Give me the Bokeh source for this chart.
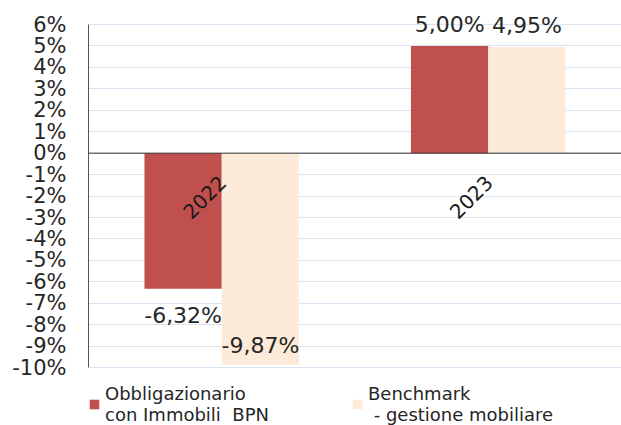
import numpy as np
from bokeh.plotting import figure
from bokeh.models import (ColumnDataSource, FactorRange, Range1d, Span, Legend,
                          LegendItem, FixedTicker, CustomJSTickFormatter)
from bokeh.transform import dodge
from bokeh.core.properties import value
from bokeh.embed import file_html
from bokeh.resources import INLINE

years = ["2022", "2023"]
fund = [-6.32, 5.00]
bench = [-9.87, 4.95]
fund_labels = ["-6,32%", "5,00%"]
bench_labels = ["-9,87%", "4,95%"]
y_ticks = list(range(-10, 7))
series_names = ["Obbligazionario\ncon Immobili  BPN", "Benchmark\n - gestione mobiliare"]

RED = "#c0504d"
BEIGE = "#fdead8"
FONT = "DejaVu Sans"
TXT = "#262626"


def label_y(vals):
    v = np.array(vals, dtype=float)
    return np.where(v >= 0, v + 1.0, np.maximum(v - 1.24, -8.95))


src = ColumnDataSource(dict(
    years=years, fund=fund, bench=bench,
    fund_lab=fund_labels, bench_lab=bench_labels,
    fund_ly=label_y(fund), bench_ly=label_y(bench),
    zero=[0, 0],
))

p = figure(width=621, height=425, x_range=FactorRange(*years, range_padding=0),
           y_range=Range1d(-12.70, 6.7), output_backend="svg", toolbar_location=None,
           min_border_left=88, min_border_right=0, min_border_top=9, min_border_bottom=0)
p.outline_line_color = None
p.background_fill_color = "white"

r1 = p.vbar(x=dodge("years", -0.145, range=p.x_range), top="fund", bottom=0, width=0.29,
            source=src, fill_color=RED, line_color=None)
r2 = p.vbar(x=dodge("years", 0.145, range=p.x_range), top="bench", bottom=0, width=0.29,
            source=src, fill_color=BEIGE, line_color=None)

p.add_layout(Span(location=0, dimension="width", line_color="#333333", line_width=1))

for col, ly, off in (("fund_lab", "fund_ly", -0.145), ("bench_lab", "bench_ly", 0.145)):
    p.text(x=dodge("years", off, range=p.x_range), y=ly, text=col, source=src,
           text_font=value(FONT), text_font_size="22px", text_color=TXT,
           text_align="center", text_baseline="middle")

p.text(x="years", y="zero", text="years", source=src, angle=np.pi / 4,
       x_offset=-17, y_offset=44, text_font=value(FONT), text_font_size="20px",
       text_color="#1a1a1a", text_align="center", text_baseline="middle")

p.xaxis.visible = False
p.xgrid.visible = False
p.ygrid.grid_line_color = "#dbe3f1"
p.ygrid.ticker = FixedTicker(ticks=y_ticks)

ax = p.yaxis[0]
ax.ticker = FixedTicker(ticks=y_ticks)
ax.bounds = (-10, 6)
ax.formatter = CustomJSTickFormatter(code="return tick + '%';")
ax.major_tick_line_color = None
ax.major_tick_out = 0
ax.major_tick_in = 0
ax.minor_tick_line_color = None
ax.minor_tick_out = 0
ax.axis_line_color = "#555555"
ax.major_label_text_font = FONT
ax.major_label_text_font_size = "21px"
ax.major_label_text_color = TXT
ax.major_label_standoff = 22

legend = Legend(items=[LegendItem(label=series_names[0], renderers=[r1]),
                       LegendItem(label=series_names[1], renderers=[r2])],
                location=(0, 0), orientation="horizontal")
legend.background_fill_alpha = 0
legend.border_line_color = None
legend.padding = 0
legend.margin = 0
legend.spacing = 82
legend.glyph_width = 12
legend.glyph_height = 12
legend.label_standoff = 5
legend.label_text_font = FONT
legend.label_text_font_size = "18px"
legend.label_text_color = TXT
legend.label_text_line_height = 1.17
p.add_layout(legend, "center")

open("out.html", "w").write(file_html(p, INLINE))
